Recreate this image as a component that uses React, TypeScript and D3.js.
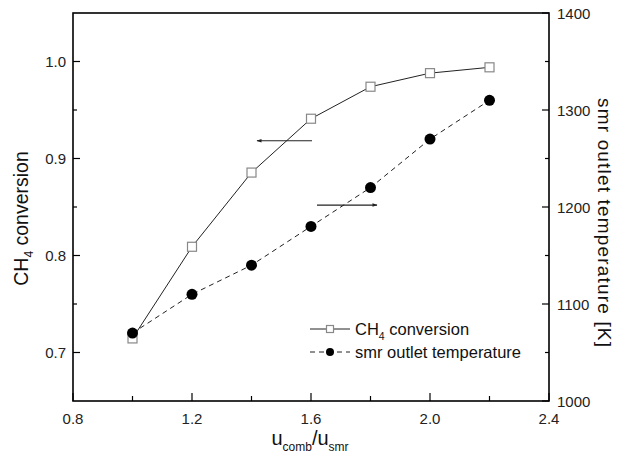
import React from "react";
import * as d3 from "d3";

const xValues = [1.0, 1.2, 1.4, 1.6, 1.8, 2.0, 2.2];
const ch4Conversion = [0.7145, 0.809, 0.8855, 0.941, 0.974, 0.988, 0.994];
const smrTemperature = [1070, 1110, 1140, 1180, 1220, 1270, 1310];
const xTicks = [0.8, 1.2, 1.6, 2.0, 2.4];
const xMinor = [1.0, 1.4, 1.8, 2.2];
const yLeftTicks = [0.7, 0.8, 0.9, 1.0];
const yLeftMinor = [0.75, 0.85, 0.95];
const yRightTicks = [1000, 1100, 1200, 1300, 1400];
const yRightMinor = [1050, 1150, 1250, 1350];

const W = 628, H = 465;
const L = 73, R = 549, T = 13, B = 401;
const FONT = "Arial, 'Liberation Sans', sans-serif";

export default function App() {
  const x = d3.scaleLinear().domain([0.8, 2.4]).range([L, R]);
  const yL = d3.scaleLinear().domain([0.65, 1.05]).range([B, T]);
  const yR = d3.scaleLinear().domain([1000, 1400]).range([B, T]);

  const ch4Pts: [number, number][] = xValues.map((v, i) => [x(v), yL(ch4Conversion[i])]);
  const tPts: [number, number][] = xValues.map((v, i) => [x(v), yR(smrTemperature[i])]);
  const line = d3.line();

  const sq = 9;
  return (
    <div style={{ position: "absolute", left: 0, top: 0 }}>
      <svg width={W} height={H} style={{ display: "block", background: "#fff" }}>
        <defs>
          <marker id="ah" viewBox="0 0 10 10" refX="9" refY="5" markerWidth="9" markerHeight="5" orient="auto" markerUnits="userSpaceOnUse">
            <path d="M0,1.5 L10,5 L0,8.5 z" fill="#222" />
          </marker>
        </defs>
        {/* frame */}
        <rect x={L} y={T} width={R - L} height={B - T} fill="none" stroke="#000" strokeWidth={1.6} />
        {/* x ticks */}
        {xTicks.map((t) => (
          <g key={"xt" + t}>
            <line x1={x(t)} x2={x(t)} y1={B} y2={B - 8} stroke="#000" strokeWidth={1.2} />
            <text x={x(t)} y={B + 22.5} textAnchor="middle" fontFamily={FONT} fontSize={15} fill="#222">{t.toFixed(1)}</text>
          </g>
        ))}
        {xMinor.map((t) => (
          <line key={"xm" + t} x1={x(t)} x2={x(t)} y1={B} y2={B - 5} stroke="#000" strokeWidth={1.2} />
        ))}
        {/* left y ticks */}
        {yLeftTicks.map((t) => (
          <g key={"yl" + t}>
            <line x1={L} x2={L + 7} y1={yL(t)} y2={yL(t)} stroke="#000" strokeWidth={1.2} />
            <text x={L - 7} y={yL(t) + 5.5} textAnchor="end" fontFamily={FONT} fontSize={15} fill="#222">{t.toFixed(1)}</text>
          </g>
        ))}
        {yLeftMinor.map((t) => (
          <line key={"ylm" + t} x1={L} x2={L + 4} y1={yL(t)} y2={yL(t)} stroke="#000" strokeWidth={1.2} />
        ))}
        {/* right y ticks */}
        {yRightTicks.map((t) => (
          <g key={"yr" + t}>
            <line x1={R} x2={R - 7} y1={yR(t)} y2={yR(t)} stroke="#000" strokeWidth={1.2} />
            <text x={R + 8} y={yR(t) + 5.5} textAnchor="start" fontFamily={FONT} fontSize={15} fill="#222">{t}</text>
          </g>
        ))}
        {yRightMinor.map((t) => (
          <line key={"yrm" + t} x1={R} x2={R - 4} y1={yR(t)} y2={yR(t)} stroke="#000" strokeWidth={1.2} />
        ))}
        {/* axis titles */}
        <text transform={`translate(28,218.5) rotate(-90)`} textAnchor="middle" fontFamily={FONT} fontSize={19.5} fill="#111">
          CH<tspan fontSize={12} dy={5}>4</tspan><tspan dy={-5}> conversion</tspan>
        </text>
        <text transform={`translate(598,222.5) rotate(90)`} textAnchor="middle" fontFamily={FONT} fontSize={19} fill="#111" textLength={249} lengthAdjust="spacing">
          smr outlet temperature [K]
        </text>
        <text x={310} y={445} textAnchor="middle" fontFamily={FONT} fontSize={20} fill="#111">
          u<tspan fontSize={12} dy={6}>comb</tspan><tspan dy={-6}>/u</tspan><tspan fontSize={12} dy={6}>smr</tspan>
        </text>
        {/* series */}
        <path d={line(ch4Pts) || ""} fill="none" stroke="#222" strokeWidth={1} />
        <path d={line(tPts) || ""} fill="none" stroke="#222" strokeWidth={1} strokeDasharray="5,4" />
        {ch4Pts.map(([px, py], i) => (
          <rect key={"s" + i} x={px - sq / 2} y={py - sq / 2} width={sq} height={sq} fill="#fff" stroke="#888" strokeWidth={1.2} />
        ))}
        {tPts.map(([px, py], i) => (
          <circle key={"c" + i} cx={px} cy={py} r={5.5} fill="#000" />
        ))}
        {/* arrows */}
        <line x1={312} x2={257} y1={yL(0.9183)} y2={yL(0.9183)} stroke="#222" strokeWidth={1.2} markerEnd="url(#ah)" />
        <line x1={317} x2={377} y1={yR(1202)} y2={yR(1202)} stroke="#222" strokeWidth={1.2} markerEnd="url(#ah)" />
        {/* legend */}
        <line x1={310} x2={350} y1={329} y2={329} stroke="#222" strokeWidth={1} />
        <rect x={330 - 3.5} y={329 - 3.5} width={7} height={7} fill="#fff" stroke="#888" strokeWidth={1.2} />
        <text x={355} y={335} fontFamily={FONT} fontSize={16.5} fill="#111">
          CH<tspan fontSize={10.5} dy={5}>4</tspan><tspan dy={-5}> conversion</tspan>
        </text>
        <line x1={310} x2={350} y1={352} y2={352} stroke="#222" strokeWidth={1} strokeDasharray="5,4" />
        <circle cx={330} cy={352} r={4} fill="#000" />
        <text x={355} y={357.5} fontFamily={FONT} fontSize={16.5} fill="#111">smr outlet temperature</text>
      </svg>
    </div>
  );
}
